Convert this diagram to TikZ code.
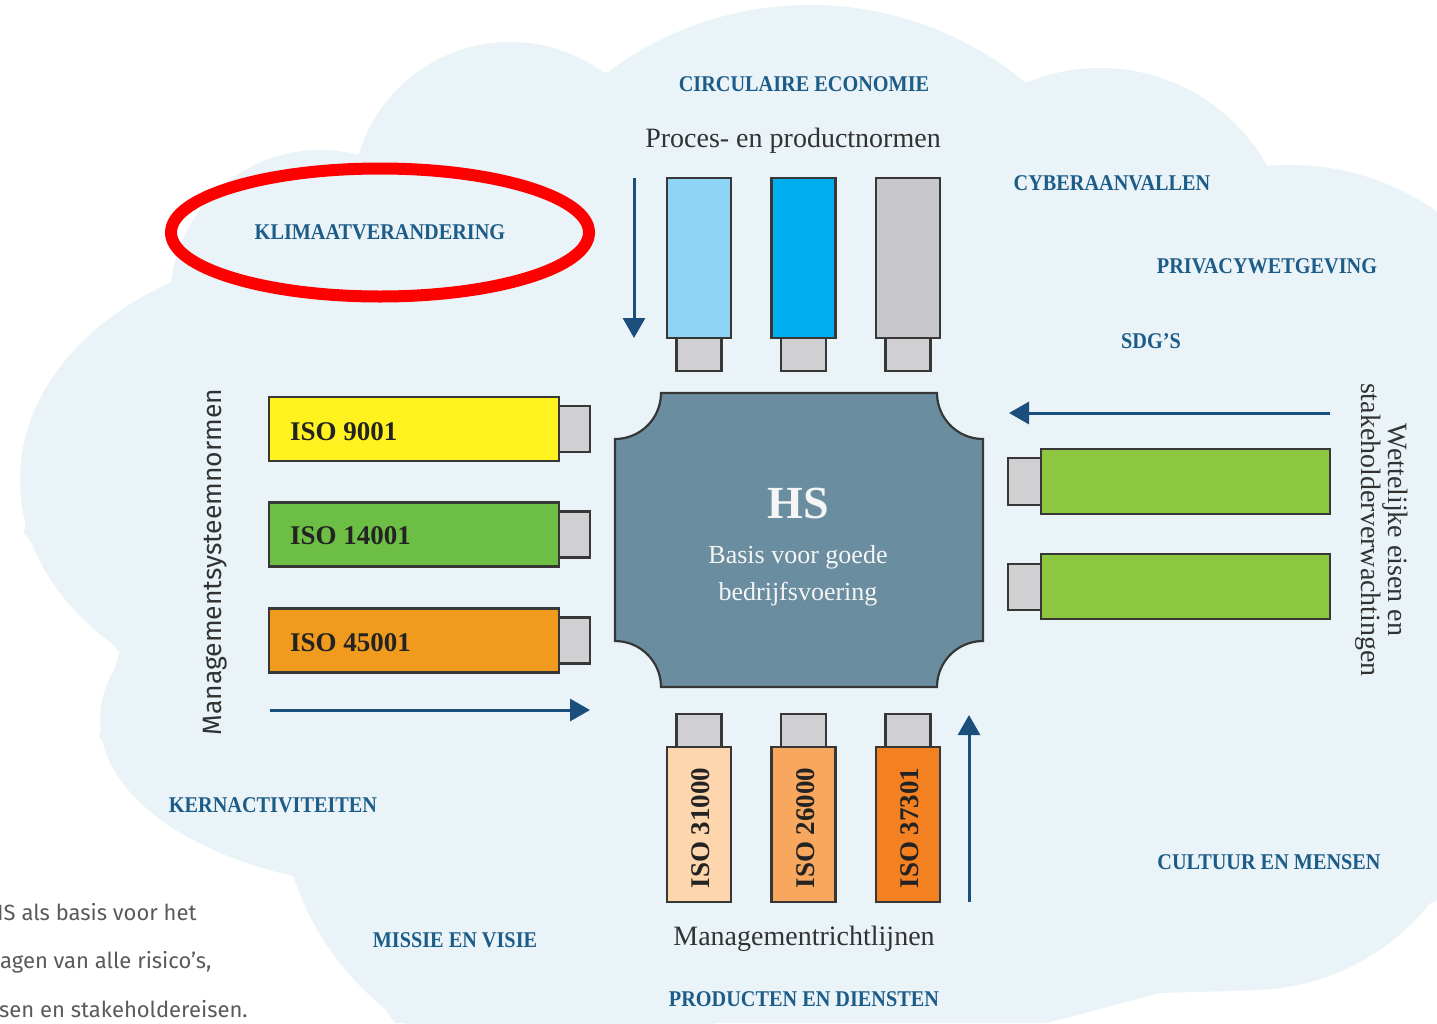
\documentclass[tikz,border=0pt]{standalone}
\usepackage{fontspec}
\setmainfont{Liberation Serif}
\newfontfamily\lblfont[FakeStretch=0.9]{Liberation Serif}
\newfontfamily\firaf{Fira Sans}
\usetikzlibrary{arrows.meta}
\definecolor{cloudc}{RGB}{234,243,247}
\definecolor{lblc}{RGB}{28,92,136}
\definecolor{arrowc}{RGB}{25,78,125}
\definecolor{strokec}{RGB}{55,55,55}
\definecolor{hsfill}{RGB}{106,142,159}
\definecolor{hstc}{RGB}{245,245,245}
\definecolor{plugc}{RGB}{208,208,210}
\definecolor{lblue}{RGB}{142,213,245}
\definecolor{cyanb}{RGB}{0,174,239}
\definecolor{grayb}{RGB}{200,200,202}
\definecolor{yellowb}{RGB}{255,242,31}
\definecolor{greenb}{RGB}{108,190,69}
\definecolor{orangeb}{RGB}{240,154,30}
\definecolor{greenr}{RGB}{141,198,63}
\definecolor{peachb}{RGB}{253,214,174}
\definecolor{orlight}{RGB}{247,167,94}
\definecolor{ordark}{RGB}{243,128,33}
\definecolor{txtc}{RGB}{35,35,35}
\definecolor{captc}{RGB}{50,50,50}
\definecolor{parac}{RGB}{90,90,90}
\definecolor{redc}{RGB}{255,0,0}
\tikzset{
  boxst/.style={draw=strokec, line width=2.4pt, inner sep=0pt, outer sep=0pt},
  plugst/.style={boxst, fill=plugc},
  arr/.style={draw=arrowc, line width=3pt, -{Triangle[length=20pt,width=22pt]}},
  lbl/.style={font=\lblfont\bfseries\fontsize{22.5}{22.5}\selectfont, text=lblc, inner sep=0pt, anchor=base},
  isotxt/.style={font=\bfseries\fontsize{27}{27}\selectfont, text=txtc, inner sep=0pt},
  captxt/.style={font=\fontsize{28}{28}\selectfont, text=captc, inner sep=0pt, anchor=base},
  hstxt/.style={text=hstc, inner sep=0pt, anchor=base},
  para/.style={font=\firaf\fontsize{22}{22}\selectfont, text=parac, inner sep=0pt, anchor=base west},
}
\begin{document}
\begin{tikzpicture}[x=1pt,y=-1pt]
\path[use as bounding box] (0,0) rectangle (1437,1023);
\clip (0,0) rectangle (1437,1023);
\fill[white] (0,0) rectangle (1437,1023);
% cloud
\fill[cloudc] (510,200) circle[radius=158];
\fill[cloudc] (320,300) circle[radius=150];
\fill[cloudc] (330,480) ellipse[x radius=310, y radius=230];
\fill[cloudc] (420,720) ellipse[x radius=320, y radius=170];
\fill[cloudc] (560,790) circle[radius=280];
\fill[cloudc] (810,343) circle[radius=338];
\fill[cloudc] (1100,260) circle[radius=192];
\fill[cloudc] (1290,420) circle[radius=255];
\fill[cloudc] (1250,760) circle[radius=230];
\fill[cloudc] (170,310) -- (364,157) -- (605,72) -- (1009,97) -- (1240,163) -- (1437,250)
  -- (1437,900) -- (1260,990) -- (1160,993) -- (1047,1023) -- (395,1023) -- (292,875)
  -- (178,830) -- (99,737) -- (119,652) -- (24,533) -- (40,400) -- cycle;

% top boxes
\node[plugst, minimum width=45pt, minimum height=33pt] (tp1) at (699,354.5) {};
\node[plugst, minimum width=45pt, minimum height=33pt] (tp2) at (803.5,354.5) {};
\node[plugst, minimum width=45pt, minimum height=33pt] (tp3) at (908,354.5) {};
\node[boxst, fill=lblue, minimum width=64pt, minimum height=160pt] (t1) at (699,258) {};
\node[boxst, fill=cyanb, minimum width=64pt, minimum height=160pt] (t2) at (803.5,258) {};
\node[boxst, fill=grayb, minimum width=64pt, minimum height=160pt] (t3) at (908,258) {};

% bottom boxes
\node[plugst, minimum width=45pt, minimum height=33pt] (bp1) at (699,730.5) {};
\node[plugst, minimum width=45pt, minimum height=33pt] (bp2) at (803.5,730.5) {};
\node[plugst, minimum width=45pt, minimum height=33pt] (bp3) at (908,730.5) {};
\node[boxst, fill=peachb, minimum width=64pt, minimum height=155pt] (b1) at (699,824.5) {};
\node[boxst, fill=orlight, minimum width=64pt, minimum height=155pt] (b2) at (803.5,824.5) {};
\node[boxst, fill=ordark, minimum width=64pt, minimum height=155pt] (b3) at (908,824.5) {};
\node[isotxt, rotate=90] (b1t) at (701,828) {ISO 31000};
\node[isotxt, rotate=90] (b2t) at (805.5,828) {ISO 26000};
\node[isotxt, rotate=90] (b3t) at (910,828) {ISO 37301};

% left boxes
\node[plugst, minimum width=31pt, minimum height=46pt] (lp1) at (574.5,429) {};
\node[plugst, minimum width=31pt, minimum height=46pt] (lp2) at (574.5,534.5) {};
\node[plugst, minimum width=31pt, minimum height=46pt] (lp3) at (574.5,640.5) {};
\node[boxst, fill=yellowb, minimum width=290pt, minimum height=64pt] (l1) at (414,429) {};
\node[boxst, fill=greenb, minimum width=290pt, minimum height=64pt] (l2) at (414,534.5) {};
\node[boxst, fill=orangeb, minimum width=290pt, minimum height=64pt] (l3) at (414,640.5) {};
\node[isotxt, anchor=base west] (l1t) at (290,440) {ISO 9001};
\node[isotxt, anchor=base west] (l2t) at (290,544) {ISO 14001};
\node[isotxt, anchor=base west] (l3t) at (290,651) {ISO 45001};

% right boxes
\node[plugst, minimum width=33pt, minimum height=47pt] (rp1) at (1024.5,481.5) {};
\node[plugst, minimum width=33pt, minimum height=46pt] (rp2) at (1024.5,587) {};
\node[boxst, fill=greenr, minimum width=289pt, minimum height=65pt] (r1) at (1185.5,481.5) {};
\node[boxst, fill=greenr, minimum width=289pt, minimum height=65pt] (r2) at (1185.5,586.5) {};

% central HS shape
\path[fill=hsfill, draw=strokec, line width=2.2pt]
  (661,393) -- (937,393) .. controls (937,418.4) and (957.6,439) .. (983,439)
  -- (983,641) .. controls (957.6,641) and (937,661.6) .. (937,687)
  -- (661,687) .. controls (661,661.6) and (640.4,641) .. (615,641)
  -- (615,439) .. controls (640.4,439) and (661,418.4) .. (661,393) -- cycle;
\node[hstxt, font=\bfseries\fontsize{46}{46}\selectfont] (hs1) at (798,518) {HS};
\node[hstxt, font=\fontsize{26}{26}\selectfont] (hs2) at (798,563) {Basis voor goede};
\node[hstxt, font=\fontsize{26}{26}\selectfont] (hs3) at (798,600) {bedrijfsvoering};

% arrows
\coordinate (ad1) at (634,178); \coordinate (ad2) at (634,338);
\coordinate (ar1) at (270,710); \coordinate (ar2) at (590,710);
\coordinate (al1) at (1330,413); \coordinate (al2) at (1009,413);
\coordinate (au1) at (969,902); \coordinate (au2) at (969,715);
\draw[arr] (ad1) -- (ad2);
\draw[arr] (ar1) -- (ar2);
\draw[arr] (al1) -- (al2);
\draw[arr] (au1) -- (au2);

% captions
\node[captxt] (cap1) at (793,147) {Proces- en productnormen};
\node[captxt] (cap2) at (804,945) {Managementrichtlijnen};
\node[font=\firaf\fontsize{26.5}{26.5}\selectfont, text=captc, inner sep=0pt, rotate=90] (cap3) at (215,562) {Managementsysteemnormen};
\node[font=\fontsize{28}{27}\selectfont, text=captc, inner sep=0pt, rotate=-90, align=center] (cap4) at (1382,530) {Wettelijke eisen en\\stakeholderverwachtingen};

% blue labels
\node[lbl] (k1) at (804,91) {CIRCULAIRE ECONOMIE};
\node[lbl] (k2) at (1112,190) {CYBERAANVALLEN};
\node[lbl] (k3) at (380,239) {KLIMAATVERANDERING};
\node[lbl] (k4) at (1267,273) {PRIVACYWETGEVING};
\node[lbl] (k5) at (1151,348) {SDG’S};
\node[lbl] (k6) at (273,812) {KERNACTIVITEITEN};
\node[lbl] (k7) at (455,947) {MISSIE EN VISIE};
\node[lbl] (k8) at (804,1006) {PRODUCTEN EN DIENSTEN};
\node[lbl] (k9) at (1269,869) {CULTUUR EN MENSEN};

% paragraph (cut at left edge)
\node[para] (p1) at (-3,920) {IS als basis voor het};
\node[para] (p2) at (0,968) {agen van alle risico’s,};
\node[para] (p3) at (-1,1017) {sen en stakeholdereisen.};

% red ellipse
\coordinate (re) at (380,232.5);
\draw[redc, line width=12pt] (re) ellipse[x radius=209, y radius=64];
\end{tikzpicture}
\end{document}
